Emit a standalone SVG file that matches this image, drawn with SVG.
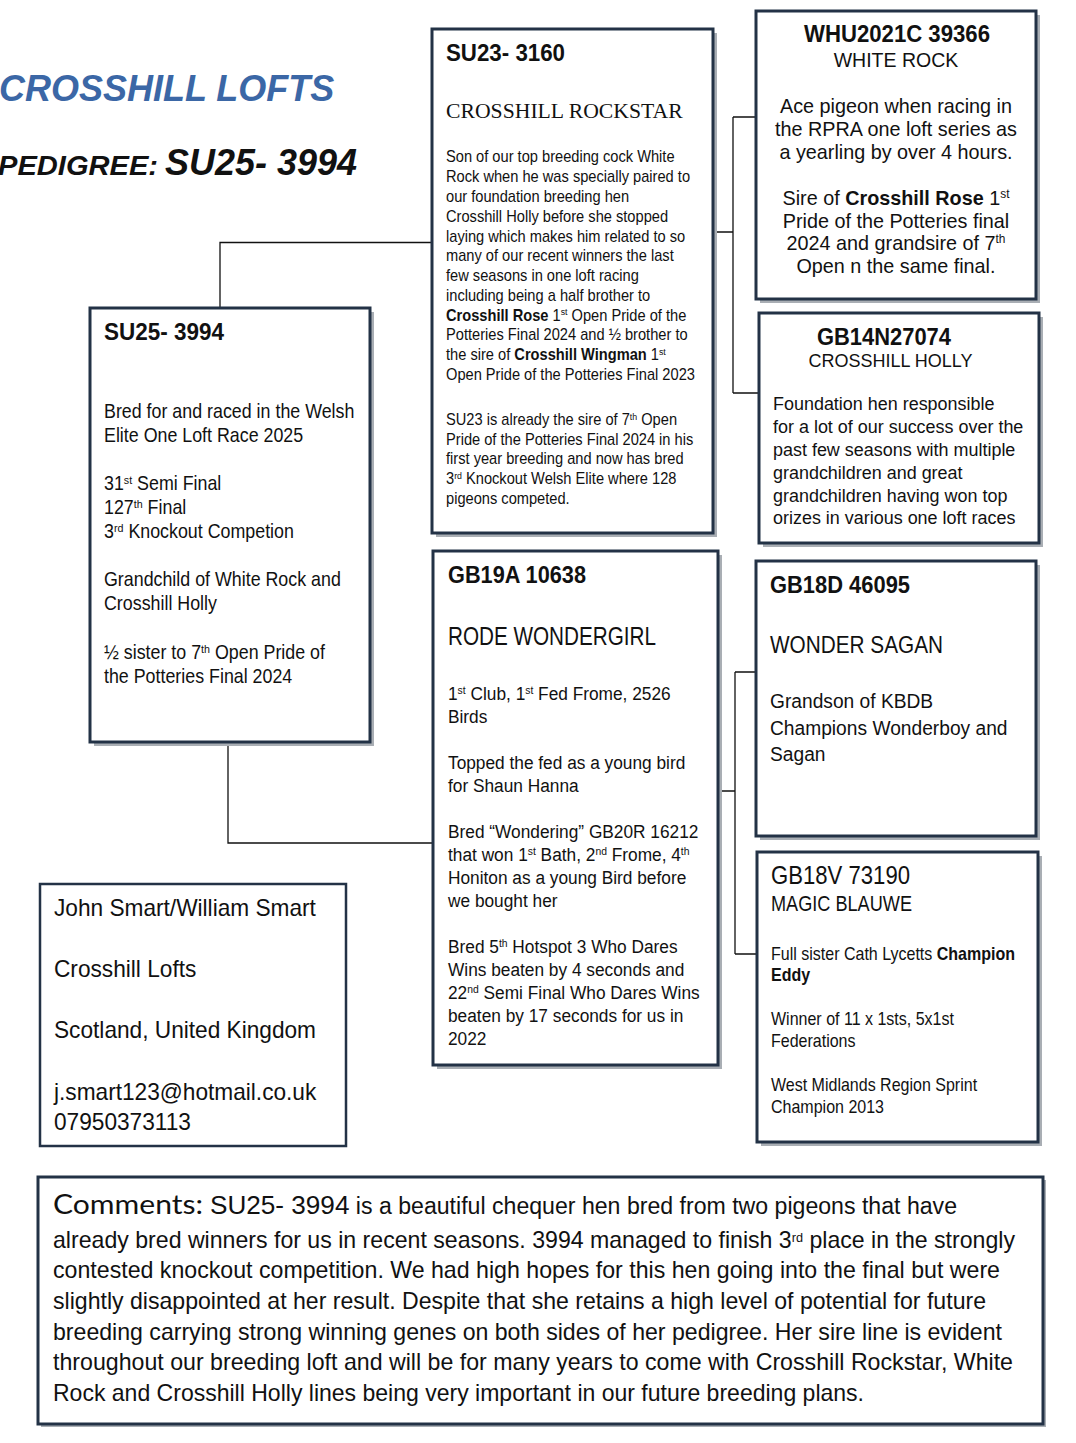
<svg xmlns="http://www.w3.org/2000/svg" width="1076" height="1443" viewBox="0 0 1076 1443">
<style>
.t{font-family:"Liberation Sans",Arial,sans-serif;fill:#111}
.b{font-weight:bold}
.serif{font-family:"Liberation Serif","Times New Roman",serif;fill:#111}
.sh{fill:#a9aeb4}
.box{fill:#fff;stroke:#233246;stroke-width:3}
.plain{fill:#fff;stroke:#233246;stroke-width:2.5}
.conn{fill:none;stroke:#111;stroke-width:1.3}
.sup{font-size:60%;baseline-shift:super}
.sup2{font-size:55%;baseline-shift:45%}
</style>
<rect width="1076" height="1443" fill="#fff"/>

<g id="title">
<text class="t b" x="-1" y="101" font-size="36" font-style="italic" style="fill:#3b67a6">CROSSHILL LOFTS</text>
<text class="t b" x="-2" y="175" font-size="27.5" font-style="italic" textLength="160" lengthAdjust="spacingAndGlyphs">PEDIGREE:</text>
<text class="t b" x="165" y="175" font-size="36" font-style="italic" textLength="192" lengthAdjust="spacingAndGlyphs">SU25- 3994</text>
</g>

<g id="connectors">
<path class="conn" d="M220,308 V242.5 H432"/>
<path class="conn" d="M228,742 V843 H433"/>
<path class="conn" d="M713,232 H733 M733,117 V393 M733,117 H756 M733,393 H759"/>
<path class="conn" d="M718,791 H735 M735,672 V954 M735,672 H756 M735,954 H757"/>
</g>

<g id="node-su23">
<rect class="sh" x="436" y="33" width="281" height="504"/>
<rect class="box" x="432" y="29" width="281" height="504"/>
<text class="t b" x="446" y="61" font-size="24" textLength="119" lengthAdjust="spacingAndGlyphs">SU23- 3160</text>
<text class="serif" x="446" y="118" font-size="21.7">CROSSHILL ROCKSTAR</text>
<g transform="translate(446,0) scale(0.915,1)" class="t" font-size="16">
<text class="t" x="0" y="162.5">Son of our top breeding cock White</text>
<text class="t" x="0" y="182.3">Rock when he was specially paired to</text>
<text class="t" x="0" y="202">our foundation breeding hen</text>
<text class="t" x="0" y="221.8">Crosshill Holly before she stopped</text>
<text class="t" x="0" y="241.6">laying which makes him related to so</text>
<text class="t" x="0" y="261.3">many of our recent winners the last</text>
<text class="t" x="0" y="281.1">few seasons in one loft racing</text>
<text class="t" x="0" y="300.9">including being a half brother to</text>
<text class="t" x="0" y="320.7"><tspan class="b">Crosshill Rose</tspan> 1<tspan class="sup">st</tspan> Open Pride of the</text>
<text class="t" x="0" y="340.4">Potteries Final 2024 and ½ brother to</text>
<text class="t" x="0" y="360.2">the sire of <tspan class="b">Crosshill Wingman</tspan> 1<tspan class="sup">st</tspan></text>
<text class="t" x="0" y="380">Open Pride of the Potteries Final 2023</text>
<text class="t" x="0" y="425">SU23 is already the sire of 7<tspan class="sup">th</tspan> Open</text>
<text class="t" x="0" y="444.8">Pride of the Potteries Final 2024 in his</text>
<text class="t" x="0" y="464.5">first year breeding and now has bred</text>
<text class="t" x="0" y="484.3">3<tspan class="sup">rd</tspan> Knockout Welsh Elite where 128</text>
<text class="t" x="0" y="504.1">pigeons competed.</text>
</g>
</g>

<g id="node-whu">
<rect class="sh" x="760" y="15" width="280" height="288"/>
<rect class="box" x="756" y="11" width="280" height="288"/>
<text class="t b" x="804" y="42" font-size="23" textLength="186" lengthAdjust="spacingAndGlyphs">WHU2021C 39366</text>
<g class="t" text-anchor="middle">
<text class="t" x="896" y="67" font-size="19.5">WHITE ROCK</text>
<text class="t" x="896" y="113" font-size="19.8">Ace pigeon when racing in</text>
<text class="t" x="896" y="136" font-size="19.8">the RPRA one loft series as</text>
<text class="t" x="896" y="159" font-size="19.8">a yearling by over 4 hours.</text>
<text class="t" x="896" y="205" font-size="19.8">Sire of <tspan class="b">Crosshill Rose</tspan> 1<tspan class="sup">st</tspan></text>
<text class="t" x="896" y="227.5" font-size="19.8">Pride of the Potteries final</text>
<text class="t" x="896" y="250" font-size="19.8">2024 and grandsire of 7<tspan class="sup">th</tspan></text>
<text class="t" x="896" y="273" font-size="19.8">Open n the same final.</text>
</g>
</g>

<g id="node-gb14n">
<rect class="sh" x="763" y="317" width="280" height="230"/>
<rect class="box" x="759" y="313" width="280" height="230"/>
<text class="t b" x="817" y="345" font-size="23" textLength="134" lengthAdjust="spacingAndGlyphs">GB14N27074</text>
<text class="t" x="890.5" y="367" font-size="18" text-anchor="middle">CROSSHILL HOLLY</text>
<g transform="translate(773,0) scale(0.95,1)" class="t" font-size="18.9">
<text class="t" x="0" y="410">Foundation hen responsible</text>
<text class="t" x="0" y="433">for a lot of our success over the</text>
<text class="t" x="0" y="456">past few seasons with multiple</text>
<text class="t" x="0" y="479">grandchildren and great</text>
<text class="t" x="0" y="502">grandchildren having won top</text>
<text class="t" x="0" y="524.5">orizes in various one loft races</text>
</g>
</g>

<g id="node-su25">
<rect class="sh" x="94" y="312" width="280" height="434"/>
<rect class="box" x="90" y="308" width="280" height="434"/>
<text class="t b" x="104" y="340" font-size="24" textLength="120" lengthAdjust="spacingAndGlyphs">SU25- 3994</text>
<g transform="translate(104,0) scale(0.915,1)" class="t" font-size="19.5">
<text class="t" x="0" y="418">Bred for and raced in the Welsh</text>
<text class="t" x="0" y="442">Elite One Loft Race 2025</text>
<text class="t" x="0" y="490">31<tspan class="sup">st</tspan> Semi Final</text>
<text class="t" x="0" y="514">127<tspan class="sup">th</tspan> Final</text>
<text class="t" x="0" y="538">3<tspan class="sup">rd</tspan> Knockout Competion</text>
<text class="t" x="0" y="586">Grandchild of White Rock and</text>
<text class="t" x="0" y="610">Crosshill Holly</text>
<text class="t" x="0" y="659">½ sister to 7<tspan class="sup">th</tspan> Open Pride of</text>
<text class="t" x="0" y="683">the Potteries Final 2024</text>
</g>
</g>

<g id="node-gb19a">
<rect class="sh" x="437" y="555" width="285" height="514"/>
<rect class="box" x="433" y="551" width="285" height="514"/>
<text class="t b" x="448" y="583" font-size="24" textLength="138" lengthAdjust="spacingAndGlyphs">GB19A 10638</text>
<text class="t" x="448" y="645" font-size="26" textLength="208" lengthAdjust="spacingAndGlyphs">RODE WONDERGIRL</text>
<g transform="translate(448,0) scale(0.91,1)" class="t" font-size="19">
<text class="t" x="0" y="700">1<tspan class="sup">st</tspan> Club, 1<tspan class="sup">st</tspan> Fed Frome, 2526</text>
<text class="t" x="0" y="723">Birds</text>
<text class="t" x="0" y="769">Topped the fed as a young bird</text>
<text class="t" x="0" y="792">for Shaun Hanna</text>
<text class="t" x="0" y="838">Bred “Wondering” GB20R 16212</text>
<text class="t" x="0" y="861">that won 1<tspan class="sup">st</tspan> Bath, 2<tspan class="sup">nd</tspan> Frome, 4<tspan class="sup">th</tspan></text>
<text class="t" x="0" y="884">Honiton as a young Bird before</text>
<text class="t" x="0" y="907">we bought her</text>
<text class="t" x="0" y="953">Bred 5<tspan class="sup">th</tspan> Hotspot 3 Who Dares</text>
<text class="t" x="0" y="976">Wins beaten by 4 seconds and</text>
<text class="t" x="0" y="999">22<tspan class="sup">nd</tspan> Semi Final Who Dares Wins</text>
<text class="t" x="0" y="1022">beaten by 17 seconds for us in</text>
<text class="t" x="0" y="1045">2022</text>
</g>
</g>

<g id="node-gb18d">
<rect class="sh" x="760" y="565" width="280" height="275"/>
<rect class="box" x="756" y="561" width="280" height="275"/>
<text class="t b" x="770" y="593" font-size="24" textLength="140" lengthAdjust="spacingAndGlyphs">GB18D 46095</text>
<text class="t" x="770" y="653" font-size="24" textLength="173" lengthAdjust="spacingAndGlyphs">WONDER SAGAN</text>
<g transform="translate(770,0) scale(0.914,1)" class="t" font-size="21">
<text class="t" x="0" y="708.5">Grandson of KBDB</text>
<text class="t" x="0" y="735">Champions Wonderboy and</text>
<text class="t" x="0" y="761.5">Sagan</text>
</g>
</g>

<g id="node-gb18v">
<rect class="sh" x="761" y="856" width="281" height="290"/>
<rect class="box" x="757" y="852" width="281" height="290"/>
<text class="t" x="771" y="884" font-size="25" textLength="139" lengthAdjust="spacingAndGlyphs">GB18V 73190</text>
<text class="t" x="771" y="911" font-size="22" textLength="141" lengthAdjust="spacingAndGlyphs">MAGIC BLAUWE</text>
<g transform="translate(771,0) scale(0.915,1)" class="t" font-size="17.5">
<text class="t" x="0" y="960">Full sister Cath Lycetts <tspan class="b">Champion</tspan></text>
<text class="t b" x="0" y="981.5">Eddy</text>
<text class="t" x="0" y="1025.5">Winner of 11 x 1sts, 5x1st</text>
<text class="t" x="0" y="1047">Federations</text>
<text class="t" x="0" y="1091.5">West Midlands Region Sprint</text>
<text class="t" x="0" y="1113">Champion 2013</text>
</g>
</g>

<g id="node-contact">
<rect class="plain" x="40" y="884" width="306" height="262"/>
<g transform="translate(54,0) scale(0.945,1)" class="t" font-size="24">
<text class="t" x="0" y="916">John Smart/William Smart</text>
<text class="t" x="0" y="977">Crosshill Lofts</text>
<text class="t" x="0" y="1038">Scotland, United Kingdom</text>
<text class="t" x="0" y="1100">j.smart123@hotmail.co.uk</text>
<text class="t" x="0" y="1130">07950373113</text>
</g>
</g>

<g id="node-comments">
<rect class="sh" x="41" y="1180" width="1005" height="247"/>
<rect class="box" x="38" y="1177" width="1005" height="247"/>
<text x="53" y="1214" font-family="Lato, 'Open Sans', sans-serif" font-size="27" fill="#111" textLength="150" lengthAdjust="spacingAndGlyphs">Comments:</text>
<text class="t" x="210" y="1214" font-size="23" textLength="747" lengthAdjust="spacingAndGlyphs"><tspan font-size="26">SU25- 3994</tspan> is a beautiful chequer hen bred from two pigeons that have</text>
<text class="t" x="53" y="1248" font-size="24" textLength="962" lengthAdjust="spacingAndGlyphs">already bred winners for us in recent seasons. 3994 managed to finish 3<tspan class="sup2">rd</tspan> place in the strongly</text>
<text class="t" x="53" y="1278" font-size="24" textLength="947" lengthAdjust="spacingAndGlyphs">contested knockout competition. We had high hopes for this hen going into the final but were</text>
<text class="t" x="53" y="1309" font-size="24" textLength="933" lengthAdjust="spacingAndGlyphs">slightly disappointed at her result. Despite that she retains a high level of potential for future</text>
<text class="t" x="53" y="1340" font-size="24" textLength="949" lengthAdjust="spacingAndGlyphs">breeding carrying strong winning genes on both sides of her pedigree. Her sire line is evident</text>
<text class="t" x="53" y="1370" font-size="24" textLength="960" lengthAdjust="spacingAndGlyphs">throughout our breeding loft and will be for many years to come with Crosshill Rockstar, White</text>
<text class="t" x="53" y="1401" font-size="24" textLength="811" lengthAdjust="spacingAndGlyphs">Rock and Crosshill Holly lines being very important in our future breeding plans.</text>
</g>
</svg>
